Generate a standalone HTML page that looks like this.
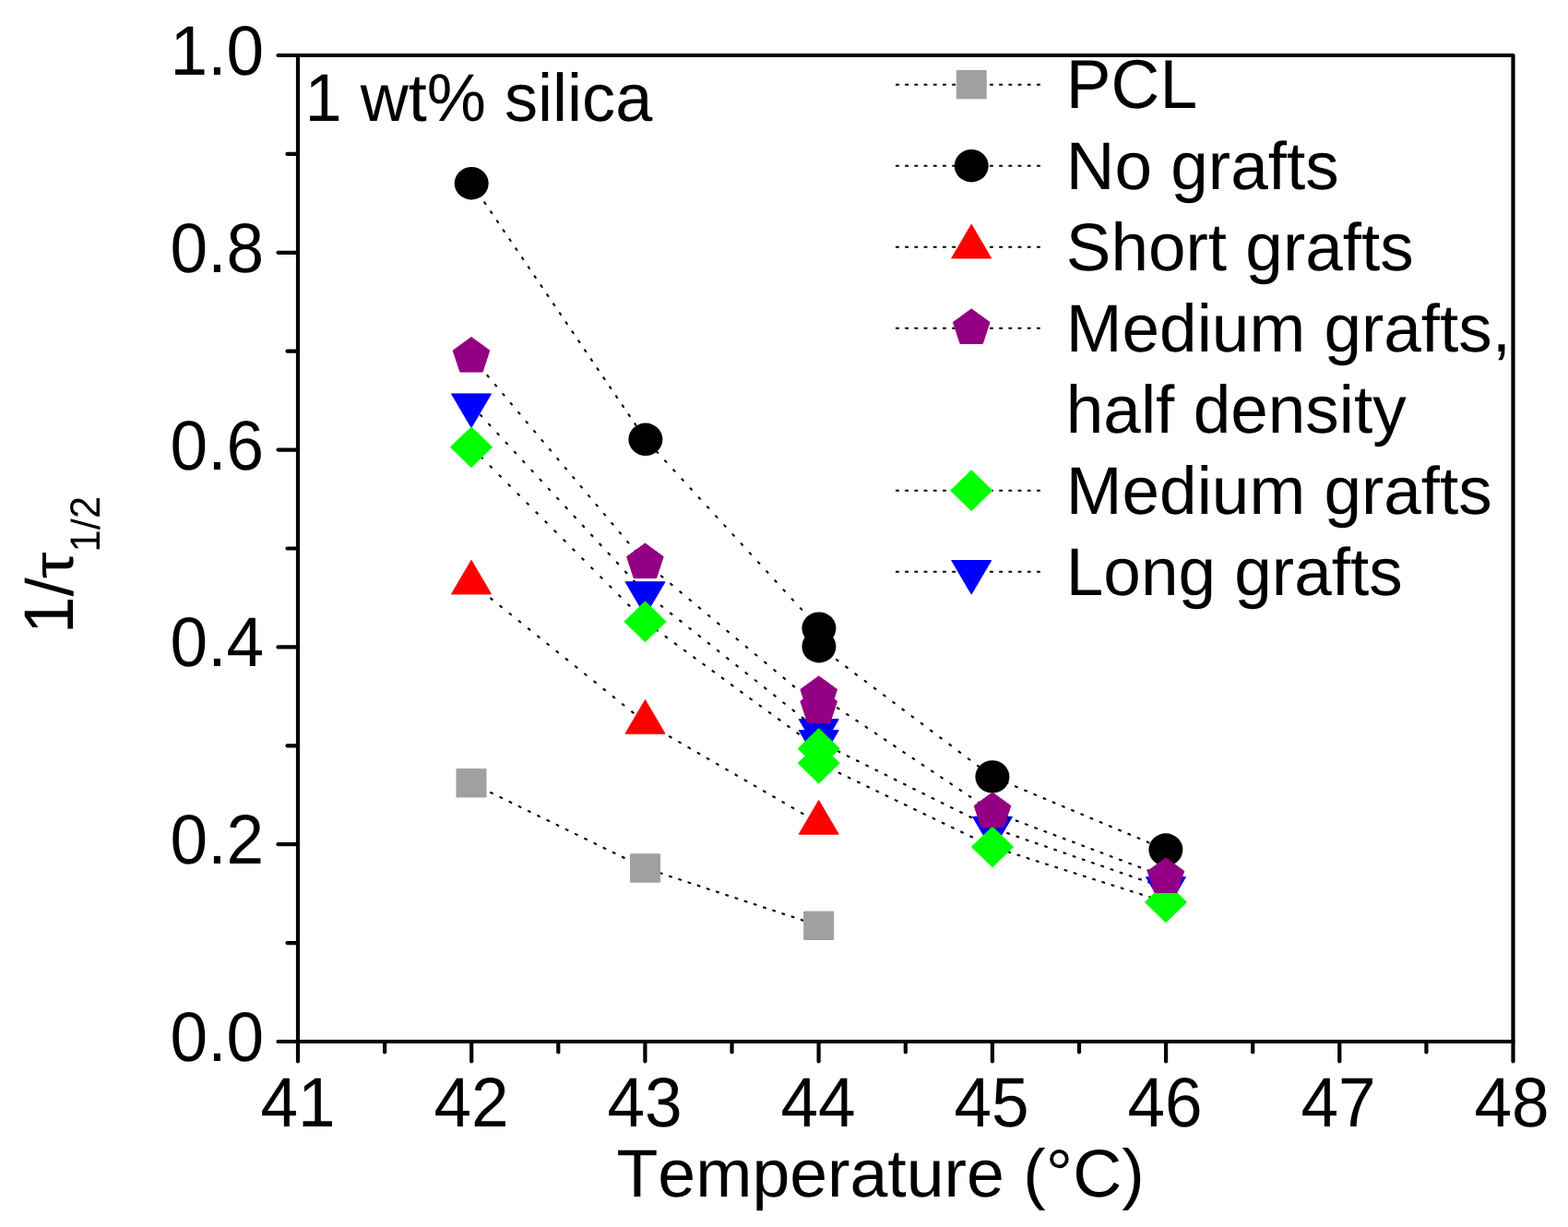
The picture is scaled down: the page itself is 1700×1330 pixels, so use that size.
<!DOCTYPE html>
<html lang="en">
<head>
<meta charset="utf-8">
<title>1 wt% silica crystallization rate</title>
<style>
html,body{margin:0;padding:0;background:#fff;}
body{width:1700px;height:1330px;overflow:hidden;}
svg{display:block;}
text{font-family:"Liberation Sans",Arial,Helvetica,sans-serif;fill:#000;font-kerning:none;text-rendering:geometricPrecision;}
</style>
</head>
<body>
<svg width="1700" height="1330" viewBox="0 0 1700 1330">
<rect width="1700" height="1330" fill="#fff"/>
<g id="data">
<g class="s-gray">
<g stroke="#000" stroke-width="2.1" fill="none">
<line x1="511.0" y1="848.8" x2="699.6" y2="941.0" stroke-dasharray="3.70 7.65" stroke-dashoffset="0.00"/>
<line x1="699.6" y1="941.0" x2="887.7" y2="1003.3" stroke-dasharray="3.70 7.04" stroke-dashoffset="5.27"/>
</g>
<rect x="495.0" y="833.6" width="32" height="30.4" fill="#a0a0a0" stroke="#a0a0a0" stroke-width="1" stroke-linejoin="round"/>
<rect x="683.6" y="925.8" width="32" height="30.4" fill="#a0a0a0" stroke="#a0a0a0" stroke-width="1" stroke-linejoin="round"/>
<rect x="871.7" y="988.1" width="32" height="30.4" fill="#a0a0a0" stroke="#a0a0a0" stroke-width="1" stroke-linejoin="round"/>
</g>
<g class="s-black">
<g stroke="#000" stroke-width="2.1" fill="none">
<line x1="511.2" y1="198.7" x2="699.9" y2="476.3" stroke-dasharray="3.70 8.39" stroke-dashoffset="0.00"/>
<line x1="699.9" y1="476.3" x2="887.9" y2="681.1" stroke-dasharray="3.70 9.87" stroke-dashoffset="10.32"/>
<line x1="887.9" y1="681.1" x2="887.9" y2="700.7" stroke-dasharray="3.70 6.30" stroke-dashoffset="2.40"/>
<line x1="887.9" y1="700.7" x2="1075.9" y2="841.9" stroke-dasharray="3.70 9.06" stroke-dashoffset="2.55"/>
<line x1="1075.9" y1="841.9" x2="1263.9" y2="921.0" stroke-dasharray="3.70 7.37" stroke-dashoffset="6.99"/>
</g>
<ellipse cx="511.2" cy="198.7" rx="18.5" ry="17.7" fill="#000000"/>
<ellipse cx="699.9" cy="476.3" rx="18.5" ry="17.7" fill="#000000"/>
<ellipse cx="887.9" cy="681.1" rx="18.5" ry="17.7" fill="#000000"/>
<ellipse cx="887.9" cy="700.7" rx="18.5" ry="17.7" fill="#000000"/>
<ellipse cx="1075.9" cy="841.9" rx="18.5" ry="17.7" fill="#000000"/>
<ellipse cx="1263.9" cy="921.0" rx="18.5" ry="17.7" fill="#000000"/>
</g>
<g class="s-red">
<g stroke="#000" stroke-width="2.1" fill="none">
<line x1="511.0" y1="631.7" x2="699.5" y2="783.0" stroke-dasharray="3.70 9.38" stroke-dashoffset="0.00"/>
<line x1="699.5" y1="783.0" x2="887.7" y2="892.0" stroke-dasharray="3.70 8.09" stroke-dashoffset="5.66"/>
</g>
<polygon points="511.0,607.3 532.5,643.9 489.5,643.9" fill="#ff0000" stroke="#ff0000" stroke-width="1" stroke-linejoin="round"/>
<polygon points="699.5,758.6 721.0,795.2 678.0,795.2" fill="#ff0000" stroke="#ff0000" stroke-width="1" stroke-linejoin="round"/>
<polygon points="887.7,867.6 909.2,904.2 866.2,904.2" fill="#ff0000" stroke="#ff0000" stroke-width="1" stroke-linejoin="round"/>
</g>
<g class="s-blue">
<g stroke="#000" stroke-width="2.1" fill="none">
<line x1="511.0" y1="439.1" x2="699.5" y2="642.9" stroke-dasharray="3.70 9.92" stroke-dashoffset="0.00"/>
<line x1="699.5" y1="642.9" x2="887.7" y2="791.9" stroke-dasharray="3.70 9.31" stroke-dashoffset="4.94"/>
<line x1="887.7" y1="791.9" x2="887.7" y2="803.9" stroke-dasharray="3.70 6.30" stroke-dashoffset="8.31"/>
<line x1="887.7" y1="803.9" x2="1076.0" y2="897.5" stroke-dasharray="3.70 7.69" stroke-dashoffset="0.35"/>
<line x1="1076.0" y1="897.5" x2="1264.0" y2="962.9" stroke-dasharray="3.70 7.10" stroke-dashoffset="5.31"/>
</g>
<polygon points="489.5,426.9 532.5,426.9 511.0,463.5" fill="#0000ff" stroke="#0000ff" stroke-width="1" stroke-linejoin="round"/>
<polygon points="678.0,630.7 721.0,630.7 699.5,667.3" fill="#0000ff" stroke="#0000ff" stroke-width="1" stroke-linejoin="round"/>
<polygon points="866.2,779.7 909.2,779.7 887.7,816.3" fill="#0000ff" stroke="#0000ff" stroke-width="1" stroke-linejoin="round"/>
<polygon points="866.2,791.7 909.2,791.7 887.7,828.3" fill="#0000ff" stroke="#0000ff" stroke-width="1" stroke-linejoin="round"/>
<polygon points="1054.5,885.3 1097.5,885.3 1076.0,921.9" fill="#0000ff" stroke="#0000ff" stroke-width="1" stroke-linejoin="round"/>
<polygon points="1242.5,950.7 1285.5,950.7 1264.0,987.3" fill="#0000ff" stroke="#0000ff" stroke-width="1" stroke-linejoin="round"/>
</g>
<g class="s-green">
<g stroke="#000" stroke-width="2.1" fill="none">
<line x1="511.0" y1="484.7" x2="699.5" y2="673.8" stroke-dasharray="3.70 10.42" stroke-dashoffset="0.00"/>
<line x1="699.5" y1="673.8" x2="887.7" y2="811.5" stroke-dasharray="3.70 8.94" stroke-dashoffset="11.50"/>
<line x1="887.7" y1="811.5" x2="887.7" y2="827.2" stroke-dasharray="3.70 6.30" stroke-dashoffset="3.61"/>
<line x1="887.7" y1="827.2" x2="1076.0" y2="918.0" stroke-dasharray="3.70 7.62" stroke-dashoffset="10.54"/>
<line x1="1076.0" y1="918.0" x2="1264.0" y2="978.0" stroke-dasharray="3.70 7.01" stroke-dashoffset="4.19"/>
</g>
<polygon points="511.0,462.8 533.6,484.7 511.0,506.6 488.4,484.7" fill="#00ff00" stroke="#00ff00" stroke-width="1" stroke-linejoin="round"/>
<polygon points="699.5,651.9 722.1,673.8 699.5,695.7 676.9,673.8" fill="#00ff00" stroke="#00ff00" stroke-width="1" stroke-linejoin="round"/>
<polygon points="887.7,789.6 910.3,811.5 887.7,833.4 865.1,811.5" fill="#00ff00" stroke="#00ff00" stroke-width="1" stroke-linejoin="round"/>
<polygon points="887.7,805.3 910.3,827.2 887.7,849.1 865.1,827.2" fill="#00ff00" stroke="#00ff00" stroke-width="1" stroke-linejoin="round"/>
<polygon points="1076.0,896.1 1098.6,918.0 1076.0,939.9 1053.4,918.0" fill="#00ff00" stroke="#00ff00" stroke-width="1" stroke-linejoin="round"/>
<polygon points="1264.0,956.1 1286.6,978.0 1264.0,999.9 1241.4,978.0" fill="#00ff00" stroke="#00ff00" stroke-width="1" stroke-linejoin="round"/>
</g>
<g class="s-purple">
<g stroke="#000" stroke-width="2.1" fill="none">
<line x1="511.0" y1="386.3" x2="699.4" y2="609.8" stroke-dasharray="3.70 9.38" stroke-dashoffset="0.00"/>
<line x1="699.4" y1="609.8" x2="887.7" y2="766.5" stroke-dasharray="3.70 9.57" stroke-dashoffset="4.64"/>
<line x1="887.7" y1="766.5" x2="887.7" y2="753.7" stroke-dasharray="3.70 6.30" stroke-dashoffset="8.11"/>
<line x1="887.7" y1="753.7" x2="1076.0" y2="879.8" stroke-dasharray="3.70 8.58" stroke-dashoffset="1.11"/>
<line x1="1076.0" y1="879.8" x2="1264.0" y2="950.7" stroke-dasharray="3.70 7.20" stroke-dashoffset="6.01"/>
</g>
<polygon points="511.0,365.5 530.8,379.9 523.2,403.1 498.8,403.1 491.2,379.9" fill="#930083" stroke="#930083" stroke-width="1" stroke-linejoin="round"/>
<polygon points="699.4,589.0 719.2,603.4 711.6,626.6 687.2,626.6 679.6,603.4" fill="#930083" stroke="#930083" stroke-width="1" stroke-linejoin="round"/>
<polygon points="887.7,745.7 907.5,760.1 899.9,783.3 875.5,783.3 867.9,760.1" fill="#930083" stroke="#930083" stroke-width="1" stroke-linejoin="round"/>
<polygon points="887.7,732.9 907.5,747.3 899.9,770.5 875.5,770.5 867.9,747.3" fill="#930083" stroke="#930083" stroke-width="1" stroke-linejoin="round"/>
<polygon points="1076.0,859.0 1095.8,873.4 1088.2,896.6 1063.8,896.6 1056.2,873.4" fill="#930083" stroke="#930083" stroke-width="1" stroke-linejoin="round"/>
<polygon points="1264.0,929.9 1283.8,944.3 1276.2,967.5 1251.8,967.5 1244.2,944.3" fill="#930083" stroke="#930083" stroke-width="1" stroke-linejoin="round"/>
</g>
</g>
<g id="axes" stroke="#000" stroke-width="4.2" stroke-linecap="round" fill="none">
<path d="M323.0,60.0 H1640.5 V1129.0 H323.0 Z" stroke-linejoin="round"/>
<line x1="301.5" y1="1129.0" x2="323.0" y2="1129.0"/>
<line x1="301.5" y1="915.2" x2="323.0" y2="915.2"/>
<line x1="301.5" y1="701.4" x2="323.0" y2="701.4"/>
<line x1="301.5" y1="487.6" x2="323.0" y2="487.6"/>
<line x1="301.5" y1="273.8" x2="323.0" y2="273.8"/>
<line x1="301.5" y1="60.0" x2="323.0" y2="60.0"/>
<line x1="311.5" y1="1022.1" x2="323.0" y2="1022.1"/>
<line x1="311.5" y1="808.3" x2="323.0" y2="808.3"/>
<line x1="311.5" y1="594.5" x2="323.0" y2="594.5"/>
<line x1="311.5" y1="380.7" x2="323.0" y2="380.7"/>
<line x1="311.5" y1="166.9" x2="323.0" y2="166.9"/>
<line x1="323.0" y1="1129.0" x2="323.0" y2="1150.5"/>
<line x1="511.2" y1="1129.0" x2="511.2" y2="1150.5"/>
<line x1="699.4" y1="1129.0" x2="699.4" y2="1150.5"/>
<line x1="887.6" y1="1129.0" x2="887.6" y2="1150.5"/>
<line x1="1075.9" y1="1129.0" x2="1075.9" y2="1150.5"/>
<line x1="1264.1" y1="1129.0" x2="1264.1" y2="1150.5"/>
<line x1="1452.3" y1="1129.0" x2="1452.3" y2="1150.5"/>
<line x1="1640.5" y1="1129.0" x2="1640.5" y2="1150.5"/>
<line x1="417.1" y1="1129.0" x2="417.1" y2="1140.5"/>
<line x1="605.3" y1="1129.0" x2="605.3" y2="1140.5"/>
<line x1="793.5" y1="1129.0" x2="793.5" y2="1140.5"/>
<line x1="981.8" y1="1129.0" x2="981.8" y2="1140.5"/>
<line x1="1170.0" y1="1129.0" x2="1170.0" y2="1140.5"/>
<line x1="1358.2" y1="1129.0" x2="1358.2" y2="1140.5"/>
<line x1="1546.4" y1="1129.0" x2="1546.4" y2="1140.5"/>
</g>
<g id="ticklabels" font-size="76">
<text transform="translate(286,1150.0) scale(0.96,1)" text-anchor="end">0.0</text>
<text transform="translate(286,936.2) scale(0.96,1)" text-anchor="end">0.2</text>
<text transform="translate(286,722.4) scale(0.96,1)" text-anchor="end">0.4</text>
<text transform="translate(286,508.6) scale(0.96,1)" text-anchor="end">0.6</text>
<text transform="translate(286,294.8) scale(0.96,1)" text-anchor="end">0.8</text>
<text transform="translate(286,81.0) scale(0.96,1)" text-anchor="end">1.0</text>
<text transform="translate(323.0,1221) scale(0.96,1)" text-anchor="middle">41</text>
<text transform="translate(511.0,1221) scale(0.96,1)" text-anchor="middle">42</text>
<text transform="translate(699.0,1221) scale(0.96,1)" text-anchor="middle">43</text>
<text transform="translate(887.0,1221) scale(0.96,1)" text-anchor="middle">44</text>
<text transform="translate(1075.1,1221) scale(0.96,1)" text-anchor="middle">45</text>
<text transform="translate(1263.1,1221) scale(0.96,1)" text-anchor="middle">46</text>
<text transform="translate(1451.1,1221) scale(0.96,1)" text-anchor="middle">47</text>
<text transform="translate(1639.1,1221) scale(0.96,1)" text-anchor="middle">48</text>
</g>
<text transform="translate(668.5,1297) scale(1.006,1)" font-size="73">Temperature (°C)</text>
<text transform="translate(79,687) rotate(-90) scale(0.96,1)" font-size="76">1</text>
<text transform="translate(79,646.4) rotate(-90) scale(0.96,0.95)" font-size="76">/</text>
<text transform="translate(79,627.3) rotate(-90) scale(1,0.855)" font-size="73">τ</text>
<text transform="translate(108.3,598.4) rotate(-90) scale(0.95,1)" font-size="45.8">1</text>
<text transform="translate(108.3,574.2) rotate(-90) scale(0.95,0.95)" font-size="45.8">/</text>
<text transform="translate(108.3,562.1) rotate(-90) scale(0.95,1)" font-size="45.8">2</text>
<text transform="translate(330.5,131.4) scale(0.988,1)" font-size="73">1 wt% silica</text>
<g id="legend" font-size="73">
<line x1="971" y1="91.7" x2="1128" y2="91.7" stroke="#000" stroke-width="2" stroke-dasharray="3.8 6.4"/>
<rect x="1037.2" y="76.5" width="32" height="30.4" fill="#a0a0a0" stroke="#a0a0a0" stroke-width="1" stroke-linejoin="round"/>
<text transform="translate(1155.8,116.7) scale(0.975,1)" font-size="75">PCL</text>
<line x1="971" y1="179.7" x2="1128" y2="179.7" stroke="#000" stroke-width="2" stroke-dasharray="3.8 6.4"/>
<ellipse cx="1053.2" cy="179.7" rx="18.5" ry="17.7" fill="#000000"/>
<text transform="translate(1155.8,204.8) scale(0.999,1)">No grafts</text>
<line x1="971" y1="267.7" x2="1128" y2="267.7" stroke="#000" stroke-width="2" stroke-dasharray="3.8 6.4"/>
<polygon points="1053.2,243.3 1074.7,279.9 1031.7,279.9" fill="#ff0000" stroke="#ff0000" stroke-width="1" stroke-linejoin="round"/>
<text transform="translate(1155.8,292.8) scale(0.999,1)">Short grafts</text>
<line x1="971" y1="355.7" x2="1128" y2="355.7" stroke="#000" stroke-width="2" stroke-dasharray="3.8 6.4"/>
<polygon points="1053.2,334.9 1073.0,349.3 1065.4,372.5 1041.0,372.5 1033.4,349.3" fill="#930083" stroke="#930083" stroke-width="1" stroke-linejoin="round"/>
<text transform="translate(1155.8,380.8) scale(0.999,1)">Medium grafts,</text>
<text transform="translate(1155.8,468.9) scale(0.999,1)">half density</text>
<line x1="971" y1="531.7" x2="1128" y2="531.7" stroke="#000" stroke-width="2" stroke-dasharray="3.8 6.4"/>
<polygon points="1053.2,509.8 1075.8,531.7 1053.2,553.6 1030.6,531.7" fill="#00ff00" stroke="#00ff00" stroke-width="1" stroke-linejoin="round"/>
<text transform="translate(1155.8,557.0) scale(0.999,1)">Medium grafts</text>
<line x1="971" y1="619.7" x2="1128" y2="619.7" stroke="#000" stroke-width="2" stroke-dasharray="3.8 6.4"/>
<polygon points="1031.7,607.5 1074.7,607.5 1053.2,644.1" fill="#0000ff" stroke="#0000ff" stroke-width="1" stroke-linejoin="round"/>
<text transform="translate(1155.8,645.0) scale(0.999,1)">Long grafts</text>
</g>
</svg>
</body>
</html>
